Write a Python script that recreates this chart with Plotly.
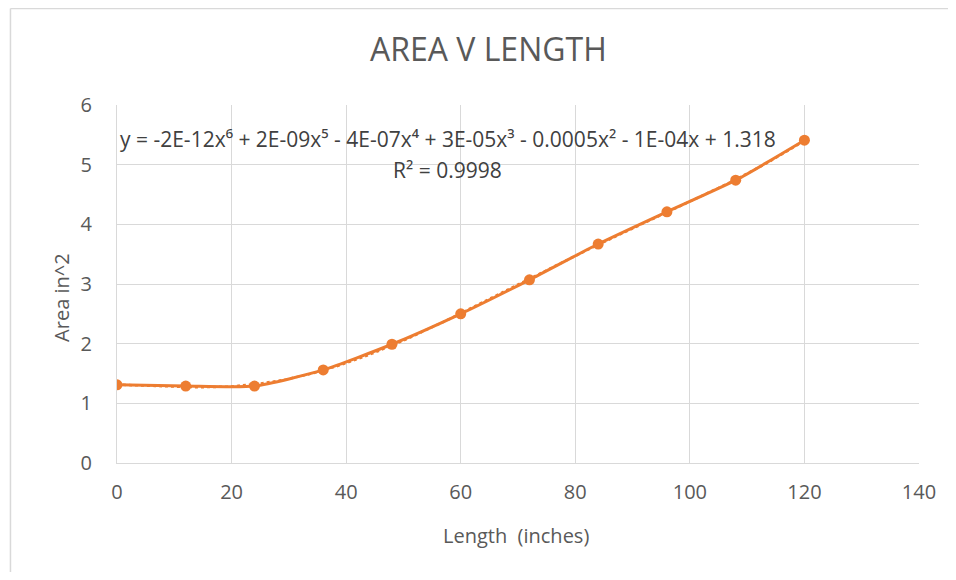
import numpy as np
import plotly.graph_objects as go

length_in = [0, 12, 24, 36, 48, 60, 72, 84, 96, 108, 120]
area_in2 = [1.31, 1.29, 1.29, 1.56, 1.99, 2.50, 3.07, 3.67, 4.21, 4.74, 5.41]
x_ticks = [0, 20, 40, 60, 80, 100, 120, 140]
y_ticks = [0, 1, 2, 3, 4, 5, 6]
equation_text = "y = -2E-12x⁶ + 2E-09x⁵ - 4E-07x⁴ + 3E-05x³ - 0.0005x² - 1E-04x + 1.318"
r2_text = "R² = 0.9998"

orange = "#ED7D31"
grey_txt = "#595959"
font_main = "Open Sans, sans-serif"

# polynomial trendline (order 6) fitted to the data
coef = np.polyfit(length_in, area_in2, 6)
xt = np.linspace(min(length_in), max(length_in), 200)
yt = np.polyval(coef, xt)

fig = go.Figure()
fig.add_trace(go.Scatter(x=xt, y=yt, mode="lines",
                         line=dict(color=orange, width=2.5, dash="dot"),
                         hoverinfo="skip", showlegend=False))
fig.add_trace(go.Scatter(x=length_in, y=area_in2, mode="lines+markers",
                         line=dict(color=orange, width=3, shape="spline", smoothing=0.6),
                         marker=dict(color=orange, size=11),
                         showlegend=False))

fig.add_annotation(x=57.7, y=5.43, xref="x", yref="y", text=equation_text,
                   showarrow=False, font=dict(family=font_main, size=21, color="#404040"))
fig.add_annotation(x=57.7, y=4.91, xref="x", yref="y", text=r2_text,
                   showarrow=False, font=dict(family=font_main, size=21, color="#404040"))

W, H = 940, 564
ml, mr, mt, mb = 109, 18, 97, 109
pw, ph = W - ml - mr, H - mt - mb

# axis titles
fig.add_annotation(x=0.498, y=-0.246, xref="paper", yref="paper", text="Length  (inches)",
                   showarrow=False, font=dict(family=font_main, size=20, color=grey_txt))
fig.add_annotation(x=-0.088, y=0.4637, xref="paper", yref="paper", text="Area in^2",
                   textangle=-90, showarrow=False,
                   font=dict(family=font_main, size=20, color=grey_txt))

# outer chart border (top and left edges visible)
bx = (1 - ml) / pw
by = 1 + (mt - 0.5) / ph
fig.add_shape(type="line", xref="paper", yref="paper", x0=bx, x1=2, y0=by, y1=by,
              line=dict(color="#d9d9d9", width=1.5))
fig.add_shape(type="line", xref="paper", yref="paper", x0=bx, x1=bx, y0=by, y1=-2,
              line=dict(color="#d9d9d9", width=1.5))

fig.update_layout(
    width=W, height=H,
    margin=dict(l=ml, r=mr, t=mt, b=mb),
    paper_bgcolor="white", plot_bgcolor="white",
    title=dict(text="AREA V LENGTH", x=0.511, xanchor="center", y=0.9255, yanchor="middle",
               font=dict(family=font_main, size=32, color=grey_txt)),
    font=dict(family=font_main, color=grey_txt),
)
fig.update_xaxes(range=[0, 140], tickvals=x_ticks, showgrid=True, gridcolor="#d9d9d9",
                 gridwidth=1, zeroline=False, showline=True, linecolor="#d9d9d9",
                 tickfont=dict(size=20, color=grey_txt), ticks="", ticklabelstandoff=11)
fig.update_yaxes(range=[0, 6], tickvals=y_ticks, showgrid=True, gridcolor="#d9d9d9",
                 gridwidth=1, zeroline=False, showline=True, linecolor="#d9d9d9",
                 tickfont=dict(size=20, color=grey_txt), ticks="", ticklabelstandoff=20)

fig.write_html("out.html")
